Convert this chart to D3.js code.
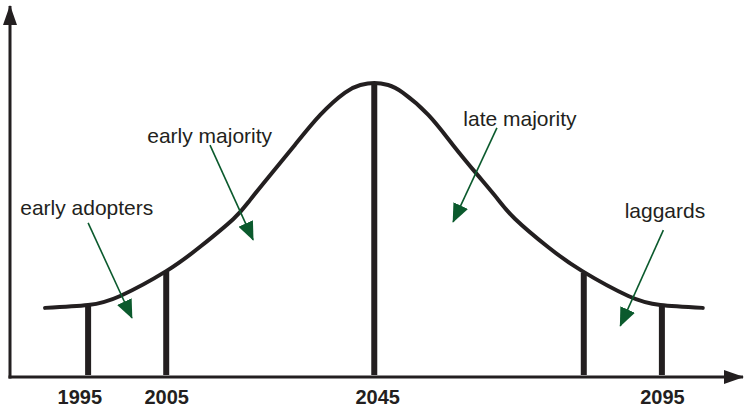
<!DOCTYPE html>
<html>
<head>
<meta charset="utf-8">
<script src="https://cdn.jsdelivr.net/npm/d3@7"></script>
<style>
  html, body { margin: 0; padding: 0; background: #fff; }
  svg { display: block; }
</style>
</head>
<body>
<script>
// Diffusion curve, values (arbitrary units 0..100)
var curveT = [4.8, 10.7, 15.1, 21.4, 26.0, 30.6, 32.9, 35.6, 39.0, 42.5, 45.9, 48.0, 49.9,
              51.8, 53.8, 57.3, 60.7, 64.1, 66.9, 69.2, 73.7, 78.4, 84.7, 89.1, 94.9];
var curveV = [19.2, 20.0, 22.5, 29.4, 36.1, 43.9, 49.2, 56.0, 64.4, 72.8, 79.0, 81.1, 81.7,
              81.1, 79.0, 72.8, 64.4, 56.0, 49.2, 43.9, 36.1, 29.4, 22.5, 20.0, 19.2];

// Vertical dividers
var barT = [10.7, 21.4, 49.9, 78.6, 89.3];
var barV = [20.0, 29.4, 81.7, 28.9, 20.0];

// Tick labels under the axis
var tickT = [9.5, 21.4, 50.3, 89.3];
var tickLabels = ["1995", "2005", "2045", "2095"];

// Annotations
var noteText = ["early adopters", "early majority", "late majority", "laggards"];
var noteAt   = [[1.4, 45.0], [18.8, 65.0], [62.1, 69.7], [84.2, 44.2]];
var arrowFrom = [[10.7, 42.8], [27.4, 64.4], [66.7, 69.2], [89.5, 40.8]];
var arrowTo   = [[16.7, 16.4], [33.3, 38.1], [60.7, 43.1], [83.6, 14.2]];

var width = 744, height = 411;
var ink = "#231f20", green = "#0b5a2d";

var svg = d3.select("body").append("svg")
  .attr("width", width)
  .attr("height", height)
  .attr("font-family", "'Liberation Sans', Arial, Helvetica, sans-serif");

var x = d3.scaleLinear().domain([0, 100]).range([10, 740]);
var y = d3.scaleLinear().domain([0, 100]).range([377, 17]);

var defs = svg.append("defs");
defs.append("marker")
    .attr("id", "head-green")
    .attr("markerUnits", "userSpaceOnUse")
    .attr("viewBox", "0 0 19 16")
    .attr("refX", 18).attr("refY", 8)
    .attr("markerWidth", 19).attr("markerHeight", 16)
    .attr("orient", "auto")
  .append("path")
    .attr("d", "M0,0L19,8L0,16Z")
    .attr("fill", green);
defs.append("marker")
    .attr("id", "head-axis")
    .attr("markerUnits", "userSpaceOnUse")
    .attr("viewBox", "0 0 20 14")
    .attr("refX", 19).attr("refY", 7)
    .attr("markerWidth", 20).attr("markerHeight", 14)
    .attr("orient", "auto")
  .append("path")
    .attr("d", "M0,0L20,7L0,14Z")
    .attr("fill", ink);

// axes lines with arrow heads
svg.append("line")
    .attr("x1", x(0)).attr("y1", y(0) + 1.5)
    .attr("x2", x(0)).attr("y2", 6)
    .attr("stroke", ink).attr("stroke-width", 3)
    .attr("marker-end", "url(#head-axis)");
svg.append("line")
    .attr("x1", x(0) - 1.5).attr("y1", y(0))
    .attr("x2", 743).attr("y2", y(0))
    .attr("stroke", ink).attr("stroke-width", 3)
    .attr("marker-end", "url(#head-axis)");

// dividers
svg.append("g").selectAll("rect")
  .data(barT)
  .enter().append("rect")
    .attr("x", function(d) { return x(d) - 3; })
    .attr("y", function(d, i) { return y(barV[i]); })
    .attr("width", 6)
    .attr("height", function(d, i) { return y(0) - 2 - y(barV[i]); })
    .attr("fill", ink);

// bell curve
var line = d3.line()
  .x(function(d) { return x(d); })
  .y(function(d, i) { return y(curveV[i]); })
  .curve(d3.curveNatural);

svg.append("path")
    .attr("d", line(curveT))
    .attr("fill", "none")
    .attr("stroke", ink)
    .attr("stroke-width", 4)
    .attr("stroke-linecap", "round");

// year labels
var axis = d3.axisBottom(x)
  .tickValues(tickT)
  .tickFormat(function(d, i) { return tickLabels[i]; })
  .tickSize(0)
  .tickPadding(13);

var gx = svg.append("g")
  .attr("transform", "translate(0," + y(0) + ")")
  .call(axis);
gx.select(".domain").remove();
gx.selectAll("text")
  .attr("font-family", "'Liberation Sans', Arial, Helvetica, sans-serif")
  .attr("font-size", 20)
  .attr("font-weight", "bold")
  .attr("fill", ink);

// annotations
var notes = svg.append("g");
notes.selectAll("line")
  .data(noteText)
  .enter().append("line")
    .attr("x1", function(d, i) { return x(arrowFrom[i][0]); })
    .attr("y1", function(d, i) { return y(arrowFrom[i][1]); })
    .attr("x2", function(d, i) { return x(arrowTo[i][0]); })
    .attr("y2", function(d, i) { return y(arrowTo[i][1]); })
    .attr("stroke", green)
    .attr("stroke-width", 1.6)
    .attr("marker-end", "url(#head-green)");

notes.selectAll("text")
  .data(noteText)
  .enter().append("text")
    .attr("x", function(d, i) { return x(noteAt[i][0]); })
    .attr("y", function(d, i) { return y(noteAt[i][1]); })
    .attr("font-size", 21)
    .attr("fill", ink)
    .text(function(d) { return d; });
</script>
</body>
</html>
